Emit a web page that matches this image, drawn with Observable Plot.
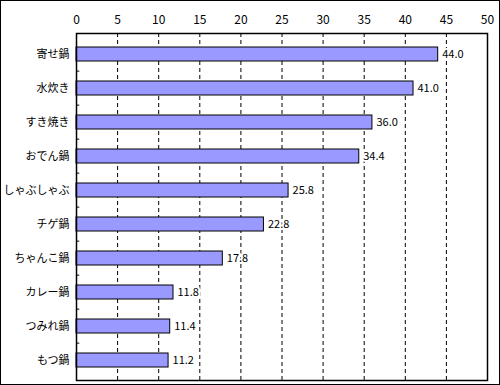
<!DOCTYPE html>
<html><head><meta charset="utf-8">
<script src="https://cdn.jsdelivr.net/npm/d3@7"></script>
<script src="https://cdn.jsdelivr.net/npm/@observablehq/plot@0.6"></script>
<style>
body{margin:0;background:#fff;}
#chart svg{display:block;outline:1px solid #000;outline-offset:-1px;}
</style>
</head><body><div id="chart"></div>
<script>
const categories = ["寄せ鍋","水炊き","すき焼き","おでん鍋","しゃぶしゃぶ","チゲ鍋","ちゃんこ鍋","カレー鍋","つみれ鍋","もつ鍋"];
const values = [44.0,41.0,36.0,34.4,25.8,22.8,17.8,11.8,11.4,11.2];
const xTicks = [0,5,10,15,20,25,30,35,40,45,50];
const data = categories.map((c,i)=>({name:c, value:values[i]}));
const font = "'Noto Sans CJK JP', sans-serif";
const step = (380-33)/categories.length;
const chart = Plot.plot({
  width:500, height:385,
  marginLeft:76, marginRight:13, marginTop:33, marginBottom:5,
  style:{fontFamily:font, fontSize:"12px", color:"#000", background:"#fff"},
  x:{domain:[0,50], ticks:xTicks, axis:"top", tickSize:0, tickPadding:10, label:null},
  y:{domain:categories, paddingInner:0.6, paddingOuter:0.3, axis:null},
  marks:[
    Plot.ruleX(xTicks.slice(1,-1), {stroke:"#000", strokeDasharray:"4,3", strokeWidth:1}),
    Plot.barX(data, {y:"name", x:"value", fill:"#9999FF", stroke:"#000", strokeWidth:1}),
    Plot.text(data, {y:"name", x:"value", text:d=>d.value.toFixed(1), textAnchor:"start", dx:4, fontSize:11, fill:"#000", stroke:"#fff", strokeWidth:4}),
    Plot.axisY({tickSize:0, tickPadding:7, label:null, fontSize:11}),
    Plot.ruleY(categories.slice(1), {y:d=>d, x1:0, x2:0.4, dy:-step/2, stroke:"#000"}),
    Plot.frame({stroke:"#000", strokeWidth:1.5})
  ]
});
document.getElementById("chart").append(chart);
</script>
</body></html>
